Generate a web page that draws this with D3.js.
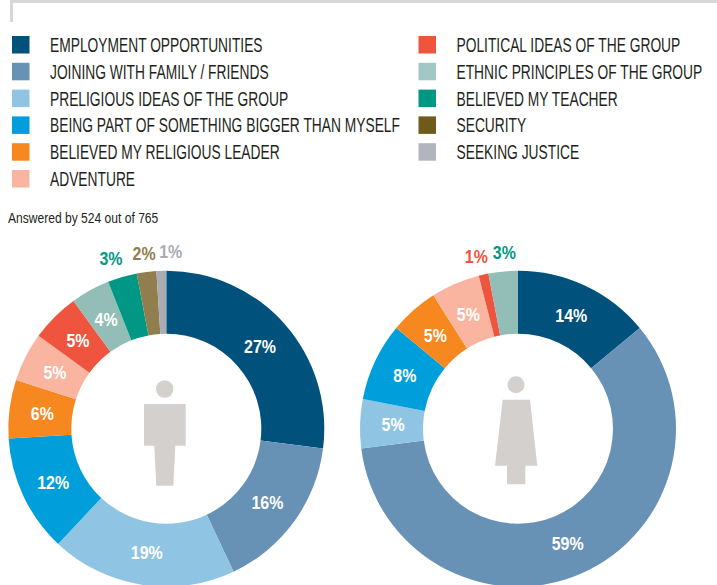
<!DOCTYPE html>
<html>
<head>
<meta charset="utf-8">
<script src="https://cdn.jsdelivr.net/npm/d3@7"></script>
<style>
  body { margin: 0; background: #fff; }
  svg { display: block; }
  text { font-family: "Liberation Sans", sans-serif; }
</style>
</head>
<body>
<div id="chart"></div>
<script>
// Motivation categories, in legend order
const categories = [
    "EMPLOYMENT OPPORTUNITIES",
    "JOINING WITH FAMILY / FRIENDS",
    "PRELIGIOUS IDEAS OF THE GROUP",
    "BEING PART OF SOMETHING BIGGER THAN MYSELF",
    "BELIEVED MY RELIGIOUS LEADER",
    "ADVENTURE",
    "POLITICAL IDEAS OF THE GROUP",
    "ETHNIC PRINCIPLES OF THE GROUP",
    "BELIEVED MY TEACHER",
    "SECURITY",
    "SEEKING JUSTICE"
];
const legendColors = ["#00517c", "#6792b6", "#8fc5e2", "#009fdb", "#f7881f", "#f9b5a0",
                      "#ef553e", "#a2c8c3", "#009784", "#6f5a1b", "#b2b5bb"];
const sliceColors = ["#00517c", "#6792b6", "#8fc5e2", "#009fdb", "#f7881f", "#f9b5a0",
                     "#ef553e", "#93bdb7", "#009784", "#917e4e", "#a9acb3"];

// Percentages per donut, same order as categories (0 = not shown)
const maleValues = [27, 16, 19, 12, 6, 5, 5, 4, 3, 2, 1];
const femaleValues = [14, 59, 5, 8, 5, 5, 1, 3, 0, 0, 0];

const note = "Answered by 524 out of 765";

const width = 717, height = 585;
const outerR = 158, innerR = 95, labelR = 125, outsideR = 177;

const svg = d3.select("#chart").append("svg")
    .attr("width", width)
    .attr("height", height);

// Grey frame corner at the top
svg.append("path")
    .attr("d", "M11.5,22V1.5H717")
    .attr("fill", "none")
    .attr("stroke", "#d5d7d8")
    .attr("stroke-width", 3);

// Legend, two columns
const rowY = d3.scalePoint().domain(d3.range(6)).range([44.5, 178.5]);
const legend = svg.append("g").selectAll("g")
    .data(categories)
    .enter()
    .append("g")
    .attr("transform", (d, i) => `translate(${i < 6 ? 12 : 418.5},${rowY(i < 6 ? i : i - 6)})`);

legend.append("rect")
    .attr("y", -8.5)
    .attr("width", 17.5)
    .attr("height", 17.5)
    .attr("fill", (d, i) => legendColors[i]);

// No condensed font is installed, so squeeze the text horizontally
legend.append("text")
    .attr("transform", "translate(38,7.5) scale(0.69,1)")
    .attr("font-size", 20)
    .attr("fill", "#231f20")
    .text(d => d);

svg.append("text")
    .attr("transform", "translate(8,223) scale(0.78,1)")
    .attr("font-size", 15.5)
    .attr("fill", "#231f20")
    .text(note);

function drawDonut(values, cx, cy, nudge) {
    const g = svg.append("g").attr("transform", `translate(${cx},${cy})`);
    const slices = d3.pie().sort(null)(values)
        .map((d, i) => ({...d, index: i}))
        .filter(d => d.value > 0);
    const arc = d3.arc().innerRadius(innerR).outerRadius(outerR);
    const labelArc = d3.arc().innerRadius(labelR).outerRadius(labelR);
    const outsideArc = d3.arc().innerRadius(outsideR).outerRadius(outsideR);

    g.selectAll("path")
        .data(slices)
        .enter()
        .append("path")
        .attr("d", arc)
        .attr("fill", d => sliceColors[d.index]);

    // Thin slices get their label outside the ring, in the slice colour
    const isThin = d => d.value < 4;
    g.selectAll("text")
        .data(slices)
        .enter()
        .append("text")
        .attr("transform", d => {
            const [x, y] = (isThin(d) ? outsideArc : labelArc).centroid(d);
            return `translate(${x + (nudge[d.index] || 0)},${y}) scale(0.84,1)`;
        })
        .attr("dy", "0.35em")
        .attr("text-anchor", "middle")
        .attr("font-size", 19)
        .attr("font-weight", "bold")
        .attr("fill", d => isThin(d) ? (d.index === 7 ? sliceColors[8] : sliceColors[d.index]) : "#fff")
        .text(d => `${d.value}%`);
}

drawDonut(maleValues, 166.3, 428.7, {8: -6, 10: 10});
drawDonut(femaleValues, 518, 428.7, {6: -3, 7: 3});

// Person pictograms
const iconColor = "#d3d0ce";
svg.append("circle").attr("cx", 164.7).attr("cy", 389).attr("r", 8.7).attr("fill", iconColor);
svg.append("path").attr("fill", iconColor)
    .attr("d", "M144,404H185.7V445.7H175.3L173.3,485.7H156.3L154.3,445.7H144Z");
svg.append("circle").attr("cx", 516).attr("cy", 384.7).attr("r", 8.5).attr("fill", iconColor);
svg.append("path").attr("fill", iconColor)
    .attr("d", "M502.7,399.7H530L537.3,465.7H525.3V484.3H507V465.7H495Z");
</script>
</body>
</html>
